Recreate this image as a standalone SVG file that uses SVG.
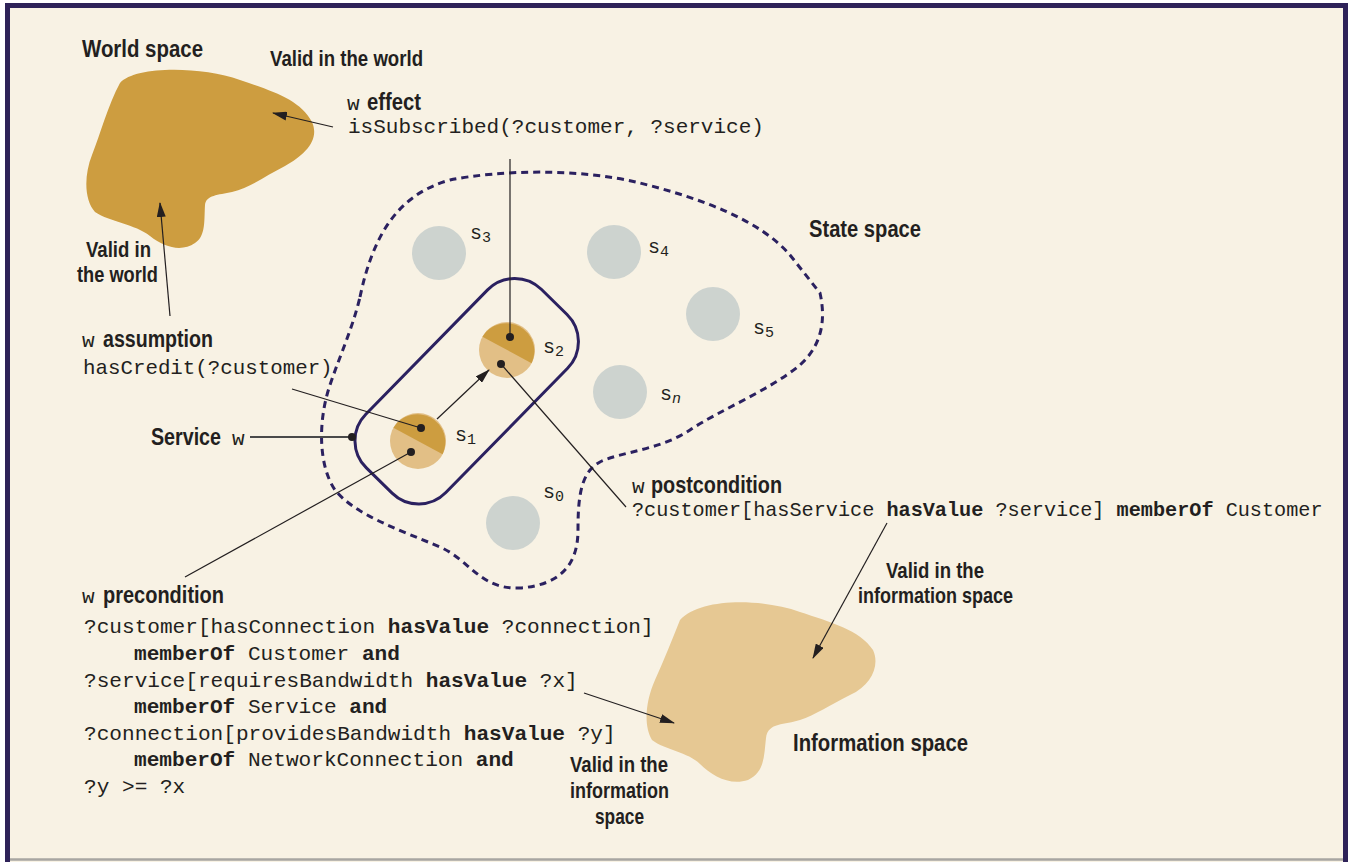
<svg xmlns="http://www.w3.org/2000/svg" width="1351" height="862" viewBox="0 0 1351 862">
<style>
.lbl{font-family:'Liberation Sans',Arial,sans-serif;font-weight:bold;fill:#231F20}
.h{font-size:24.5px}
.v{font-size:22.5px}
.m{font-family:'Liberation Mono','Courier New',monospace;fill:#231F20;font-weight:normal}
.b{font-weight:bold}
.ln{stroke:#231F20;stroke-width:1.2;fill:none}
.dot{fill:#231F20}
.gray{fill:#CDD3CF}
.sub{font-size:15px}
</style>
<defs>
<marker id="arr" markerUnits="userSpaceOnUse" markerWidth="15" markerHeight="9" refX="14" refY="4.5" orient="auto">
<path d="M0,0 L15,4.5 L0,9 Z" fill="#231F20"/>
</marker>
<g id="half">
<circle r="28" fill="#E2BF86"/>
<path d="M-24.6,-13.3 A28,28 0 0 1 24.6,13.3 Z" fill="#CD9D40"/>
</g>
</defs>
<rect x="0" y="0" width="1351" height="862" fill="#ffffff"/>
<rect x="5" y="3" width="1343" height="859" fill="#F8F2E4"/>
<g id="frame">
<line x1="10" y1="859.5" x2="1343" y2="859.5" stroke="#A8A6A2" stroke-width="2.5"/>
<path d="M7.5,862 V5.5 H1345.5 V862" fill="none" stroke="#2E2258" stroke-width="5"/>
</g>

<g id="world-space">
<path d="M120,83 C135,66 200,66 240,80 C275,92 300,100 312,122 C320,140 305,155 285,166 C265,176 250,188 232,192 C218,195 206,195 205,205 C204,220 206,236 195,243 C182,252 165,248 150,236 C135,224 110,222 95,212 C84,200 84,175 92,155 C100,135 108,105 120,83 Z" fill="#CD9D40"/>
<text class="lbl h" x="82" y="57" textLength="121" lengthAdjust="spacingAndGlyphs">World space</text>
</g>

<g id="information-space">
<path d="M680,620 C700,598 760,598 800,612 C830,622 860,630 873,650 C880,665 872,685 850,695 C830,705 815,715 800,720 C785,725 768,722 766,738 C764,755 765,772 748,780 C730,786 712,776 700,764 C688,752 665,750 652,740 C643,725 646,700 655,680 C664,660 672,640 680,620 Z" fill="#E6C893"/>
<text class="lbl h" x="793" y="751" textLength="175" lengthAdjust="spacingAndGlyphs">Information space</text>
</g>

<g id="state-space">
<path d="M360,297 C372,240 395,195 450,180 C500,170 580,168 640,183 C700,198 760,220 790,255 L820,293 C826,320 822,345 800,365 C770,390 720,410 690,430 C660,450 620,452 600,462 C580,472 578,500 578,530 C578,565 560,585 520,588 C480,590 470,560 440,547 C400,530 355,515 335,490 C318,465 318,420 330,385 C340,355 352,330 360,297 Z" fill="none" stroke="#2B2160" stroke-width="3" stroke-dasharray="7,5"/>
<text class="lbl h" x="809" y="237" textLength="112" lengthAdjust="spacingAndGlyphs">State space</text>
</g>

<g id="service-w">
<rect x="-125" y="-56" width="250" height="112" rx="38" transform="translate(466.7,391.2) rotate(-45.6)" fill="none" stroke="#2B2160" stroke-width="3"/>
</g>

<g id="s3"><circle class="gray" cx="439" cy="253" r="27"/><text class="m" x="470" y="239" font-size="20">s<tspan class="sub" dy="3">3</tspan></text></g>
<g id="s4"><circle class="gray" cx="614" cy="252" r="27"/><text class="m" x="648" y="253" font-size="20">s<tspan class="sub" dy="3">4</tspan></text></g>
<g id="s5"><circle class="gray" cx="713" cy="314" r="27"/><text class="m" x="753" y="334" font-size="20">s<tspan class="sub" dy="3">5</tspan></text></g>
<g id="sn"><circle class="gray" cx="620" cy="392" r="27"/><text class="m" x="660" y="400" font-size="20">s<tspan class="sub" dy="3" font-style="italic">n</tspan></text></g>
<g id="s0"><circle class="gray" cx="513" cy="523" r="27"/><text class="m" x="543" y="498" font-size="20">s<tspan class="sub" dy="3">0</tspan></text></g>
<g id="s1"><use href="#half" x="418" y="441"/><text class="m" x="455" y="441" font-size="20">s<tspan class="sub" dy="3">1</tspan></text></g>
<g id="s2"><use href="#half" x="507" y="350"/><text class="m" x="543" y="353" font-size="20">s<tspan class="sub" dy="3">2</tspan></text></g>

<g id="connectors">
<line class="ln" x1="333" y1="127" x2="273" y2="113" marker-end="url(#arr)"/>
<line class="ln" x1="170" y1="316" x2="160" y2="203" marker-end="url(#arr)"/>
<line class="ln" x1="510" y1="159" x2="510" y2="337"/>
<line class="ln" x1="292" y1="389" x2="421" y2="428"/>
<line x1="250" y1="437" x2="352" y2="437" stroke="#4A4A4A" stroke-width="1.8"/>
<line class="ln" x1="185" y1="577" x2="411" y2="452"/>
<line class="ln" x1="501" y1="364" x2="626" y2="507"/>
<line class="ln" x1="437" y1="419" x2="489" y2="370" marker-end="url(#arr)"/>
<line class="ln" x1="887" y1="523" x2="813" y2="658" marker-end="url(#arr)"/>
<line class="ln" x1="584" y1="693" x2="674" y2="723" marker-end="url(#arr)"/>
<circle class="dot" cx="510" cy="337" r="4"/>
<circle class="dot" cx="501" cy="364" r="4"/>
<circle class="dot" cx="421" cy="428" r="4"/>
<circle class="dot" cx="411" cy="452" r="4"/>
<circle class="dot" cx="352" cy="437" r="4"/>
</g>

<g id="labels">
<text class="lbl v" x="270" y="66" textLength="153" lengthAdjust="spacingAndGlyphs">Valid in the world</text>
<text class="lbl v" x="86" y="257" textLength="65" lengthAdjust="spacingAndGlyphs">Valid in</text>
<text class="lbl v" x="77" y="282" textLength="81" lengthAdjust="spacingAndGlyphs">the world</text>
<text class="lbl v" x="886" y="578" textLength="98" lengthAdjust="spacingAndGlyphs">Valid in the</text>
<text class="lbl v" x="858" y="603" textLength="155" lengthAdjust="spacingAndGlyphs">information space</text>
<text class="lbl v" x="570" y="772" textLength="98" lengthAdjust="spacingAndGlyphs">Valid in the</text>
<text class="lbl v" x="570" y="798" textLength="99" lengthAdjust="spacingAndGlyphs">information</text>
<text class="lbl v" x="595" y="824" textLength="49" lengthAdjust="spacingAndGlyphs">space</text>
</g>

<g id="effect">
<text class="m" x="347" y="110" font-size="21">w</text>
<text class="lbl h" x="367" y="110" textLength="54" lengthAdjust="spacingAndGlyphs">effect</text>
<text class="m" x="348" y="133" font-size="21">isSubscribed(?customer, ?service)</text>
</g>

<g id="assumption">
<text class="m" x="82" y="347" font-size="21">w</text>
<text class="lbl h" x="103" y="347" textLength="110" lengthAdjust="spacingAndGlyphs">assumption</text>
<text class="m" x="83" y="374" font-size="20.8">hasCredit(?customer)</text>
</g>

<g id="service">
<text class="lbl h" transform="translate(151,445) scale(0.803,1)">Service</text>
<text class="m" x="232" y="445" font-size="21">w</text>
</g>

<g id="postcondition">
<text class="m" x="632" y="493" font-size="21">w</text>
<text class="lbl h" x="651" y="493" textLength="131" lengthAdjust="spacingAndGlyphs">postcondition</text>
<text class="m" x="632" y="516" font-size="20.2">?customer[hasService <tspan class="b">hasValue</tspan> ?service] <tspan class="b">memberOf</tspan> Customer</text>
</g>

<g id="precondition">
<text class="m" x="82" y="603" font-size="21">w</text>
<text class="lbl h" x="103" y="603" textLength="121" lengthAdjust="spacingAndGlyphs">precondition</text>
<g class="m" font-size="21.1">
<text x="84" y="633">?customer[hasConnection <tspan class="b">hasValue</tspan> ?connection]</text>
<text x="134" y="660"><tspan class="b">memberOf</tspan> Customer <tspan class="b">and</tspan></text>
<text x="84" y="687">?service[requiresBandwidth <tspan class="b">hasValue</tspan> ?x]</text>
<text x="134" y="713"><tspan class="b">memberOf</tspan> Service <tspan class="b">and</tspan></text>
<text x="84" y="740">?connection[providesBandwidth <tspan class="b">hasValue</tspan> ?y]</text>
<text x="134" y="766"><tspan class="b">memberOf</tspan> NetworkConnection <tspan class="b">and</tspan></text>
<text x="84" y="793">?y &gt;= ?x</text>
</g>
</g>
</svg>
